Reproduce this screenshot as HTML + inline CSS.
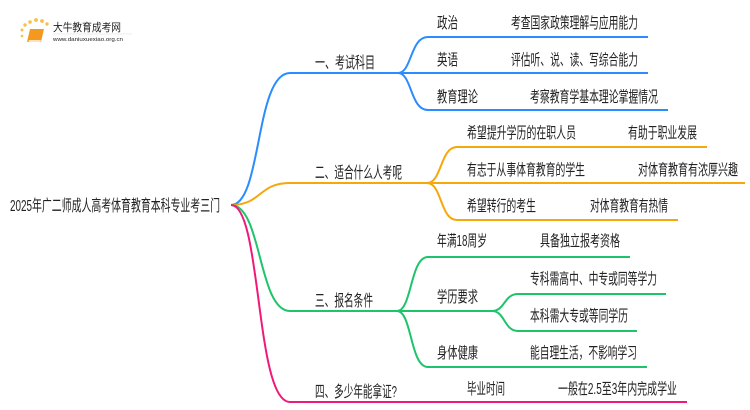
<!DOCTYPE html>
<html><head><meta charset="utf-8"><style>
html,body{margin:0;padding:0;background:#fff;width:750px;height:410px;overflow:hidden}
text{font-family:"Liberation Sans","Noto Sans CJK SC",sans-serif;fill:#222;font-size:15.5px}
</style></head><body>
<svg width="750" height="410" viewBox="0 0 750 410" xmlns="http://www.w3.org/2000/svg">
<!-- logo -->
<g>
<circle cx="22" cy="36" r="1.3" fill="#f7c04a"/><circle cx="22" cy="30" r="1.5" fill="#f7c04a"/>
<circle cx="25" cy="25" r="1.7" fill="#f7c04a"/><circle cx="30" cy="22" r="1.8" fill="#f7c04a"/>
<circle cx="36" cy="20" r="1.9" fill="#f7c04a"/><circle cx="42" cy="21" r="1.9" fill="#f7c04a"/>
<circle cx="47" cy="24" r="1.7" fill="#f7c04a"/>
<path d="M30 29 L44 29 L41 42 L27 42 Z" fill="#f39a1e"/>
<path d="M29 40 L41 40 L40 43 L28 43 Z" fill="#fff" opacity="0.7"/>
<text x="53" y="31" style="font-size:11px" fill="#444" textLength="68" lengthAdjust="spacingAndGlyphs">大牛教育成考网</text>
<text x="53" y="41" style="font-size:5.5px" fill="#666" textLength="70" lengthAdjust="spacingAndGlyphs">www.daniuxuexiao.org.cn</text>
<line x1="53" y1="34" x2="132" y2="34" stroke="#ddd" stroke-width="0.6"/>
</g>
<g fill="none" stroke-width="2">
<path d="M231 205 C262 205 255 73 290 73 L398 73" stroke="#2b8cff"/>
<path d="M231 205 C262 205 258 183 290 183 L427 183" stroke="#f5a70c"/>
<path d="M231 205 C262 205 258 311 290 311 L397 311" stroke="#1ec46b"/>
<path d="M231 205 C262 205 255 402 290 402 L687 402" stroke="#f0197a"/>
<path d="M398 73 C412 73 410 37 428 37 L648 37" stroke="#2b8cff"/>
<path d="M398 73 L648 73" stroke="#2b8cff"/>
<path d="M398 73 C412 73 410 110 428 110 L668 110" stroke="#2b8cff"/>
<path d="M427 183 C442 183 440 147 457 147 L707 147" stroke="#f5a70c"/>
<path d="M427 183 L745 183" stroke="#f5a70c"/>
<path d="M427 183 C442 183 440 220 457 220 L678 220" stroke="#f5a70c"/>
<path d="M397 311 C412 311 410 257 428 257 L630 257" stroke="#1ec46b"/>
<path d="M397 311 L492 311" stroke="#1ec46b"/>
<path d="M397 311 C412 311 410 367 428 367 L647 367" stroke="#1ec46b"/>
<path d="M492 311 C505 311 504 294 518 294 L666 294" stroke="#1ec46b"/>
<path d="M492 311 C505 311 504 331 518 331 L637 331" stroke="#1ec46b"/>
</g>
<text x="10" y="211" style="font-size:16px" textLength="210" lengthAdjust="spacingAndGlyphs">2025年广二师成人高考体育教育本科专业考三门</text>
<text x="315" y="68" style="font-size:16px" textLength="60" lengthAdjust="spacingAndGlyphs">一、考试科目</text>
<text x="315" y="178" style="font-size:16px" textLength="87" lengthAdjust="spacingAndGlyphs">二、适合什么人考呢</text>
<text x="315" y="306" style="font-size:16px" textLength="58" lengthAdjust="spacingAndGlyphs">三、报名条件</text>
<text x="315" y="397" style="font-size:16px" textLength="82" lengthAdjust="spacingAndGlyphs">四、多少年能拿证?</text>
<text x="437" y="28" textLength="21" lengthAdjust="spacingAndGlyphs">政治</text>
<text x="511" y="28" textLength="127" lengthAdjust="spacingAndGlyphs">考查国家政策理解与应用能力</text>
<text x="437" y="65" textLength="21" lengthAdjust="spacingAndGlyphs">英语</text>
<text x="511" y="65" textLength="127" lengthAdjust="spacingAndGlyphs">评估听、说、读、写综合能力</text>
<text x="437" y="102" textLength="41" lengthAdjust="spacingAndGlyphs">教育理论</text>
<text x="530" y="102" textLength="128" lengthAdjust="spacingAndGlyphs">考察教育学基本理论掌握情况</text>
<text x="467" y="138" textLength="109" lengthAdjust="spacingAndGlyphs">希望提升学历的在职人员</text>
<text x="628" y="138" textLength="69" lengthAdjust="spacingAndGlyphs">有助于职业发展</text>
<text x="467" y="175" textLength="118" lengthAdjust="spacingAndGlyphs">有志于从事体育教育的学生</text>
<text x="638" y="175" textLength="100" lengthAdjust="spacingAndGlyphs">对体育教育有浓厚兴趣</text>
<text x="467" y="211" textLength="69" lengthAdjust="spacingAndGlyphs">希望转行的考生</text>
<text x="590" y="211" textLength="78" lengthAdjust="spacingAndGlyphs">对体育教育有热情</text>
<text x="437" y="246" textLength="50" lengthAdjust="spacingAndGlyphs">年满18周岁</text>
<text x="540" y="246" textLength="80" lengthAdjust="spacingAndGlyphs">具备独立报考资格</text>
<text x="437" y="302" textLength="41" lengthAdjust="spacingAndGlyphs">学历要求</text>
<text x="530" y="284" textLength="127" lengthAdjust="spacingAndGlyphs">专科需高中、中专或同等学力</text>
<text x="530" y="321" textLength="98" lengthAdjust="spacingAndGlyphs">本科需大专或等同学历</text>
<text x="437" y="358" textLength="41" lengthAdjust="spacingAndGlyphs">身体健康</text>
<text x="530" y="358" textLength="107" lengthAdjust="spacingAndGlyphs">能自理生活，不影响学习</text>
<text x="467" y="394" textLength="38" lengthAdjust="spacingAndGlyphs">毕业时间</text>
<text x="558" y="394" textLength="119" lengthAdjust="spacingAndGlyphs">一般在2.5至3年内完成学业</text>
</svg>
</body></html>
